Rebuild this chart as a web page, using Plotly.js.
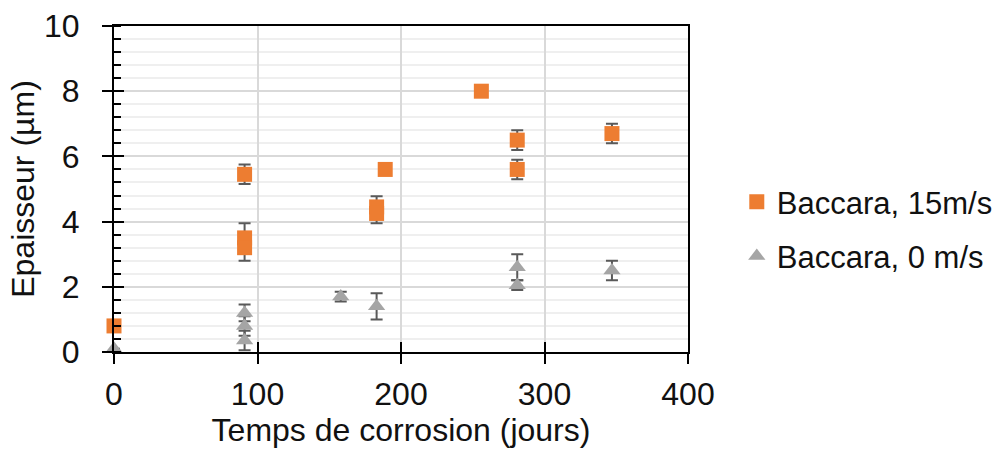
<!DOCTYPE html>
<html>
<head>
<meta charset="utf-8">
<script src="https://cdn.plot.ly/plotly-3.0.1.min.js"></script>
<style>html,body{margin:0;padding:0;background:#fff;} #chart{width:1006px;height:450px;}</style>
</head>
<body>
<div id="chart"></div>
<script>
// Series: Baccara, 15m/s
var fastDays = [0, 91, 91, 91, 183, 183, 189, 256, 281, 281, 347];
var fastThick = [0.8, 5.45, 3.5, 3.2, 4.45, 4.25, 5.6, 8.0, 6.5, 5.6, 6.7];
var fastErr = [0, 0.3, 0.45, 0.4, 0.33, 0.3, 0, 0, 0.3, 0.3, 0.3];
// Series: Baccara, 0 m/s
var stillDays = [0, 91, 91, 91, 158, 183, 281, 281, 347];
var stillThick = [0.1, 1.2, 0.8, 0.35, 1.7, 1.4, 2.6, 2.05, 2.5];
var stillErr = [0, 0.26, 0.3, 0.3, 0.15, 0.4, 0.4, 0.15, 0.3];

var seriesNames = ['Baccara, 15m/s', 'Baccara, 0 m/s'];
var xTitle = 'Temps de corrosion (jours)';
var yTitle = 'Epaisseur (µm)';

var FONT = '"Liberation Sans", Arial, sans-serif';
var FS = 32;
var errStyle = {type: 'data', visible: true, color: '#595959', thickness: 2, width: 6};

var traces = [
  {
    x: fastDays, y: fastThick, name: seriesNames[0], type: 'scatter', mode: 'markers',
    legendgroup: 'a', cliponaxis: false,
    marker: {symbol: 'square', size: 15, color: '#ED7D31'},
    error_y: Object.assign({array: fastErr}, errStyle)
  },
  {
    x: stillDays, y: stillThick, name: seriesNames[1], type: 'scatter', mode: 'markers',
    legendgroup: 'b', cliponaxis: false,
    marker: {symbol: 'triangle-up', size: 15, color: '#A5A5A5'},
    error_y: Object.assign({array: stillErr}, errStyle)
  },
  // helper invisible trace to activate the overlay axes (inside half of cross ticks)
  {x: [0], y: [0], xaxis: 'x2', yaxis: 'y2', mode: 'markers', marker: {opacity: 0}, showlegend: false, hoverinfo: 'skip'}
];

var layout = {
  width: 1006, height: 450,
  margin: {l: 114, r: 318, t: 26, b: 98, autoexpand: false},
  paper_bgcolor: '#fff', plot_bgcolor: '#fff',
  font: {family: FONT, size: FS, color: '#111'},
  showlegend: true,
  legend: {x: 1.085, xanchor: 'left', y: 0.377, yanchor: 'middle', traceorder: 'grouped', tracegroupgap: 11,
           font: {family: FONT, size: 31, color: '#111'}, bgcolor: 'rgba(0,0,0,0)'},
  xaxis: {
    range: [0, 400], dtick: 100, tick0: 0,
    showgrid: true, gridcolor: '#D9D9D9', gridwidth: 2,
    zeroline: false, showline: true, linecolor: '#000', linewidth: 2, mirror: true,
    ticks: 'outside', ticklen: 10, tickwidth: 2, tickcolor: '#000',
    ticklabelstandoff: 3,
    tickfont: {family: FONT, size: FS, color: '#111'},
    title: {text: xTitle, font: {family: FONT, size: FS, color: '#111'}, standoff: 6}
  },
  yaxis: {
    range: [0, 10], dtick: 2, tick0: 0,
    showgrid: true, gridcolor: '#D9D9D9', gridwidth: 2,
    zeroline: false, showline: true, linecolor: '#000', linewidth: 2, mirror: true,
    ticks: 'outside', ticklen: 10, tickwidth: 2, tickcolor: '#000',
    ticklabelstandoff: 16,
    tickfont: {family: FONT, size: FS, color: '#111'},
    minor: {dtick: 0.4, tick0: 0, showgrid: true, gridcolor: '#EFEFEF', gridwidth: 2,
            ticks: 'inside', ticklen: 7, tickwidth: 2, tickcolor: '#000'},
    title: {text: yTitle, font: {family: FONT, size: FS, color: '#111'}, standoff: 0}
  },
  xaxis2: {overlaying: 'x', range: [0, 400], dtick: 100, tick0: 0, showgrid: false, zeroline: false,
           showticklabels: false, ticks: 'inside', ticklen: 10, tickwidth: 2, tickcolor: '#000', side: 'bottom', anchor: 'y2'},
  yaxis2: {overlaying: 'y', range: [0, 10], dtick: 2, tick0: 0, showgrid: false, zeroline: false,
           showticklabels: false, ticks: 'inside', ticklen: 10, tickwidth: 2, tickcolor: '#000', side: 'left', anchor: 'x2'}
};

Plotly.newPlot('chart', traces, layout, {displayModeBar: false, staticPlot: true});
</script>
</body>
</html>
